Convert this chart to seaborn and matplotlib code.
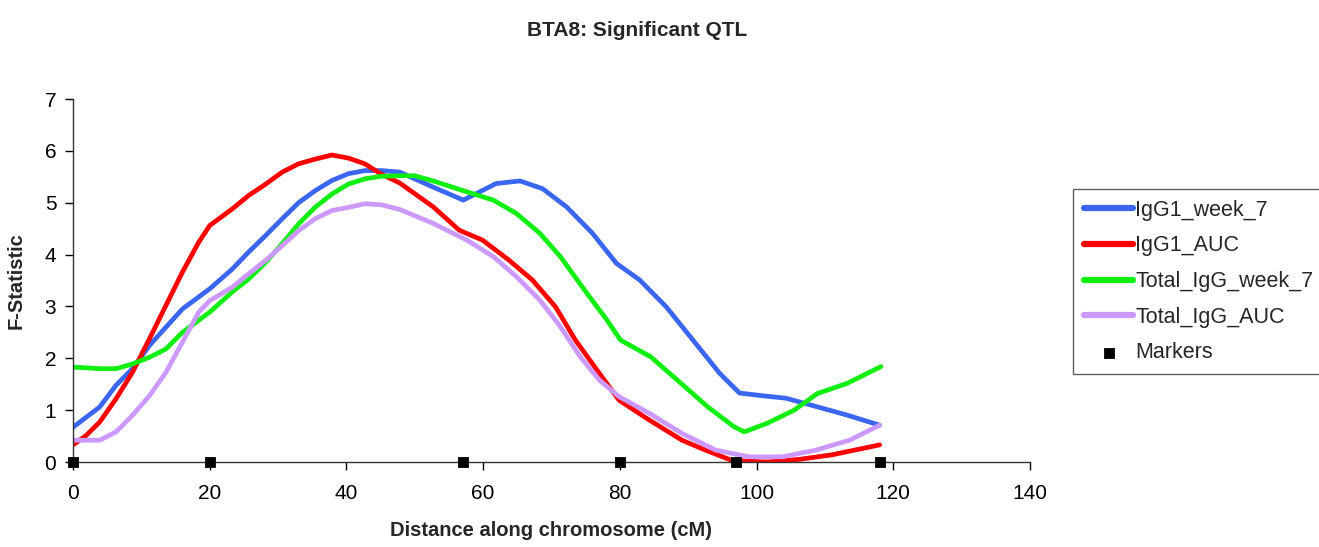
import numpy as np
import pandas as pd
import matplotlib
matplotlib.use("Agg")
import matplotlib.pyplot as plt
import seaborn as sns

# estilo
sns.set_style("ticks")
plt.rcParams['font.family'] = ['Liberation Sans', 'DejaVu Sans']

# dados
igg1_wk7_x = [0, 3.9, 6.3, 8.7, 11.2, 13.6, 16, 20, 23.3, 25.7, 28.2, 30.6, 33, 35.4, 37.9, 40.3, 42.7, 45.1, 47.8,
              52.7, 57.1, 61.9, 65.4, 68.7, 72.2, 76, 79.5, 82.9, 86.8, 90.7, 94.6, 97.5, 101.4, 104.3, 108.7, 113.1, 118]
igg1_wk7_y = [0.67, 1.06, 1.48, 1.8, 2.25, 2.6, 2.95, 3.34, 3.72, 4.05, 4.37, 4.69, 5.0, 5.23, 5.43, 5.56, 5.62, 5.62, 5.59,
              5.3, 5.05, 5.37, 5.42, 5.27, 4.92, 4.41, 3.83, 3.51, 2.99, 2.35, 1.71, 1.33, 1.27, 1.23, 1.07, 0.91, 0.71]

igg1_auc_x = [0, 1.9, 3.9, 6.3, 8.7, 11.2, 13.6, 16, 18.4, 20, 23.3, 25.7, 28.2, 30.6, 33, 35.4, 37.9, 40.3, 42.7, 45.1,
              47.8, 52.7, 56.5, 59.9, 63.8, 67.2, 70.6, 73.5, 77, 79.9, 84.3, 89.1, 92.5, 96.4, 101.4, 106.2, 111.1, 118]
igg1_auc_y = [0.33, 0.51, 0.77, 1.22, 1.73, 2.38, 3.02, 3.66, 4.24, 4.56, 4.88, 5.14, 5.36, 5.59, 5.75, 5.84, 5.92, 5.86, 5.75, 5.55,
              5.38, 4.92, 4.47, 4.28, 3.89, 3.51, 2.99, 2.35, 1.71, 1.19, 0.81, 0.42, 0.23, 0.03, 0.0, 0.05, 0.14, 0.33]

tot_wk7_x = [0, 3.9, 6.3, 8.7, 11.2, 13.6, 16, 20, 23.3, 25.7, 28.2, 30.6, 33, 35.4, 37.9, 40.3, 42.7, 45.1, 47.8, 50,
             52.7, 57.6, 61.5, 64.9, 68.3, 71.3, 75.2, 78.1, 80.1, 84.5, 88.4, 92.8, 96.7, 98.2, 101.6, 105.5, 108.9, 113.3, 118.2]
tot_wk7_y = [1.83, 1.80, 1.80, 1.89, 2.02, 2.18, 2.5, 2.89, 3.28, 3.53, 3.85, 4.21, 4.59, 4.91, 5.17, 5.36, 5.46, 5.51, 5.52, 5.52,
             5.42, 5.21, 5.05, 4.79, 4.41, 3.96, 3.25, 2.74, 2.35, 2.03, 1.58, 1.07, 0.68, 0.58, 0.75, 1.0, 1.32, 1.52, 1.84]

tot_auc_x = [0, 3.9, 6.3, 8.7, 11.2, 13.6, 16, 18.4, 20, 23.3, 25.7, 28.2, 30.6, 33, 35.4, 37.9, 40.3, 42.7, 45.1, 47.8,
             52.7, 57.6, 61.5, 64.9, 68.3, 71.3, 74.2, 77, 79.9, 84.3, 89.1, 94, 98.9, 103.8, 108.7, 113.6, 118]
tot_auc_y = [0.42, 0.42, 0.58, 0.9, 1.28, 1.73, 2.31, 2.89, 3.11, 3.37, 3.63, 3.89, 4.17, 4.46, 4.69, 4.85, 4.91, 4.98, 4.96, 4.87,
             4.6, 4.28, 3.96, 3.57, 3.12, 2.61, 2.03, 1.58, 1.26, 0.94, 0.55, 0.23, 0.10, 0.10, 0.23, 0.42, 0.71]

marker_x = [0, 20, 57, 80, 97, 118]
marker_y = [0, 0, 0, 0, 0, 0]

series = [
    ('IgG1_week_7', igg1_wk7_x, igg1_wk7_y, '#3A66F0'),
    ('IgG1_AUC', igg1_auc_x, igg1_auc_y, '#FF0000'),
    ('Total_IgG_week_7', tot_wk7_x, tot_wk7_y, '#11EE11'),
    ('Total_IgG_AUC', tot_auc_x, tot_auc_y, '#CC99FF'),
]

fig = plt.figure(figsize=(13.19, 5.47), dpi=100)
ax = fig.add_axes([73/1319, 85/547, (1030-73)/1319, (462-99)/547])

for nome, xs, ys, cor in series:
    sns.lineplot(x=xs, y=ys, ax=ax, color=cor, linewidth=3.4, label=nome, zorder=2)

sns.scatterplot(x=marker_x, y=marker_y, ax=ax, marker='s', color='black', s=55,
                edgecolor='black', label='Markers', zorder=3, clip_on=False)

ax.set_xlim(0, 140)
ax.set_ylim(0, 7)
ax.set_xticks(range(0, 141, 20))
ax.set_yticks(range(0, 8))
ax.tick_params(labelsize=15, length=6, width=1, colors='black')
ax.tick_params(axis='x', pad=10)
ax.tick_params(axis='y', pad=6)
sns.despine(ax=ax)
for s in ['left', 'bottom']:
    ax.spines[s].set_color('#333333')
    ax.spines[s].set_linewidth(1)

ax.set_xlabel('Distance along chromosome (cM)', fontsize=14.5, fontweight='bold', labelpad=13)
ax.set_ylabel('F-Statistic', fontsize=14.5, fontweight='bold', labelpad=14)
fig.text(0.483, 0.945, 'BTA8: Significant QTL', ha='center', va='center',
         fontsize=15, fontweight='bold')

leg = ax.legend(loc='upper left', bbox_to_anchor=(1073/1319, 1-189/547), bbox_transform=fig.transFigure,
                fontsize=15.5, frameon=True, fancybox=False, handlelength=2.3, handletextpad=0.1,
                labelspacing=0.68, borderpad=0.5, borderaxespad=0)
leg.get_frame().set_edgecolor('#333333')
leg.get_frame().set_linewidth(1)
for h in leg.legend_handles[:4]:
    h.set_linewidth(4.5)

plt.savefig('out.png', dpi=100)
